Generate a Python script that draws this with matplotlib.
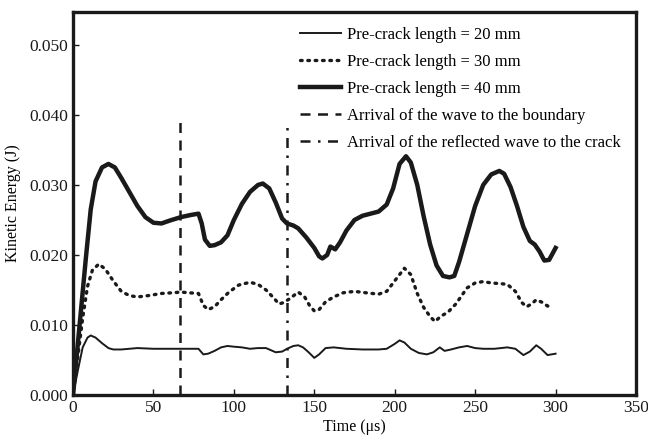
import matplotlib
matplotlib.use('Agg')
import matplotlib.pyplot as plt

# Pre-crack length = 20 mm
t_20 = [0, 3, 6, 9, 11, 14, 18, 22, 25, 30, 40, 50, 60, 70, 78, 81, 84, 88, 92, 96, 100, 105,
        110, 115, 120, 124, 126, 130, 133, 137, 140, 143, 146, 150, 153, 157, 162, 170, 180,
        190, 195, 200, 203, 206, 210, 215, 220, 224, 228, 231, 235, 240, 245, 250, 255, 262,
        270, 275, 280, 284, 288, 291, 295, 300]
e_20 = [0.0, 0.0035, 0.0068, 0.0082, 0.0085, 0.0082, 0.0074, 0.0067, 0.0065, 0.0065, 0.0067,
        0.0066, 0.0066, 0.0066, 0.0066, 0.0058, 0.0059, 0.0063, 0.0068, 0.0070, 0.0069, 0.0068,
        0.0066, 0.0067, 0.0067, 0.0063, 0.0061, 0.0062, 0.0066, 0.0070, 0.0071, 0.0068, 0.0062,
        0.0053, 0.0058, 0.0067, 0.0068, 0.0066, 0.0065, 0.0065, 0.0066, 0.0073, 0.0078, 0.0075,
        0.0066, 0.0060, 0.0058, 0.0061, 0.0068, 0.0063, 0.0065, 0.0068, 0.0070, 0.0067, 0.0066,
        0.0066, 0.0068, 0.0066, 0.0057, 0.0062, 0.0071, 0.0066, 0.0057, 0.0059]

# Pre-crack length = 30 mm
t_30 = [0, 3, 6, 9, 12, 16, 20, 25, 30, 35, 40, 47, 55, 62, 67, 72, 78, 81, 84, 88, 92, 97,
        103, 110, 115, 120, 125, 128, 131, 135, 140, 144, 147, 150, 153, 157, 162, 168, 175,
        182, 190, 195, 200, 206, 210, 214, 218, 222, 225, 229, 233, 238, 245, 250, 255, 260,
        266, 270, 275, 279, 282, 285, 288, 292, 295, 298]
e_30 = [0.0, 0.0055, 0.011, 0.0155, 0.0178, 0.0187, 0.0180, 0.0163, 0.0148, 0.0142, 0.0140,
        0.0142, 0.0145, 0.0146, 0.0147, 0.0146, 0.0145, 0.0128, 0.0122, 0.0126, 0.0136, 0.0147,
        0.0157, 0.0161, 0.0158, 0.0150, 0.0138, 0.0130, 0.0132, 0.0138, 0.0147, 0.0140, 0.0128,
        0.0120, 0.0122, 0.0133, 0.0140, 0.0146, 0.0148, 0.0146, 0.0144, 0.0148, 0.0163, 0.0181,
        0.0172, 0.0145, 0.0125, 0.0112, 0.0105, 0.0113, 0.0118, 0.0130, 0.0153, 0.0160, 0.0162,
        0.0160, 0.0159, 0.0158, 0.0148, 0.0132, 0.0126, 0.0130, 0.0136, 0.0132, 0.0127, 0.0128]

# Pre-crack length = 40 mm
t_40 = [0, 4, 8, 11, 14, 18, 22, 26, 30, 35, 40, 45, 50, 55, 60, 67, 73, 78, 80, 82, 85, 88,
        92, 96, 100, 105, 110, 115, 118, 122, 126, 130, 133, 137, 140, 145, 150, 153, 155, 158,
        160, 163, 166, 170, 175, 180, 185, 190, 195, 199, 203, 207, 210, 214, 218, 222, 226, 230,
        234, 237, 240, 245, 250, 255, 260, 265, 268, 272, 276, 280, 284, 287, 290, 293, 296, 300]
e_40 = [0.0, 0.0098, 0.0196, 0.0265, 0.0305, 0.0325, 0.0330, 0.0325, 0.0310, 0.0290, 0.0270,
        0.0254, 0.0246, 0.0245, 0.0249, 0.0254, 0.0257, 0.0259, 0.0245, 0.0222, 0.0213, 0.0214,
        0.0218, 0.0228, 0.0250, 0.0273, 0.0290, 0.0300, 0.0302, 0.0295, 0.0275, 0.0252, 0.0245,
        0.0242, 0.0238, 0.0225, 0.0210, 0.0198, 0.0195, 0.0200, 0.0212, 0.0208, 0.0218, 0.0235,
        0.0250, 0.0256, 0.0259, 0.0262, 0.0272, 0.0295, 0.0330, 0.0341, 0.0332, 0.0300, 0.0255,
        0.0215, 0.0185, 0.0170, 0.0168, 0.0170, 0.0190, 0.0230, 0.0270, 0.0300, 0.0315, 0.0320,
        0.0316, 0.0297, 0.0270, 0.0240, 0.0220, 0.0215, 0.0205, 0.0192, 0.0193, 0.0210]

t_boundary = 66.5
t_reflected = 133.2
e_marker_top = [0.0395, 0.039]

plt.rcParams['font.family'] = ['Liberation Serif', 'DejaVu Serif']
plt.rcParams['mathtext.fontset'] = 'stix'

fig = plt.figure(figsize=(6.48, 4.38), dpi=100)
ax = fig.add_axes([0.1127, 0.0982, 0.8688, 0.8744])

ax.plot(t_20, e_20, c='#1a1a1a', lw=1.4, label='Pre-crack length = 20 mm')
ax.plot(t_30, e_30, c='#1a1a1a', lw=2.4, linestyle=(0, (0.5, 1.7)), dash_capstyle='round',
        label='Pre-crack length = 30 mm')
ax.plot(t_40, e_40, c='#1a1a1a', lw=3.2, label='Pre-crack length = 40 mm')
ax.plot([t_boundary, t_boundary], [0, e_marker_top[0]], c='#1a1a1a', lw=1.8,
        linestyle=(0, (4, 3)), label='Arrival of the wave to the boundary')
ax.plot([t_reflected, t_reflected], [0, e_marker_top[1]], c='#1a1a1a', lw=1.8,
        linestyle=(0, (4, 3, 1, 3)), label='Arrival of the reflected wave to the crack')

ax.set_xlim(0, 350)
ax.set_ylim(0, 0.0547)
ax.set_xticks(range(0, 351, 50))
ax.set_yticks([0.0, 0.01, 0.02, 0.03, 0.04, 0.05])
ax.set_yticklabels(['0.000', '0.010', '0.020', '0.030', '0.040', '0.050'])
ax.tick_params(direction='in', length=4, width=1, labelsize=12.5, colors='#1a1a1a')
for s in ax.spines.values():
    s.set_linewidth(2.4)
    s.set_color('#1a1a1a')

ax.set_xlabel('Time (μs)', fontsize=11.5, labelpad=2)
ax.set_ylabel('Kinetic Energy (J)', fontsize=11.5, labelpad=6)

ax.legend(loc='upper right', frameon=False, fontsize=12, handlelength=2.5,
          labelspacing=0.66, handletextpad=0.35, borderaxespad=0.5)

fig.savefig('out.png', dpi=100)
